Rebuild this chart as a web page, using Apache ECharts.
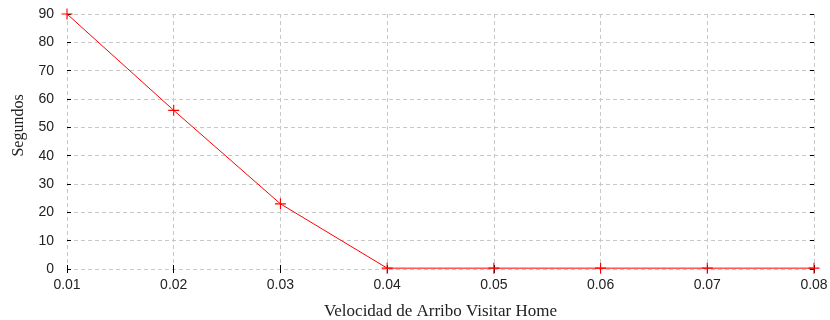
<!DOCTYPE html>
<html>
<head>
<meta charset="utf-8">
<script src="https://cdn.jsdelivr.net/npm/echarts@6/dist/echarts.min.js"></script>
<style>html,body{margin:0;padding:0;background:#fff;}#c{width:830px;height:320px;}</style>
</head>
<body>
<div id="c"></div>
<script>
const xValues = [0.01, 0.02, 0.03, 0.04, 0.05, 0.06, 0.07, 0.08];
const segundos = [90, 56, 23, 0.3, 0.3, 0.3, 0.3, 0.3];
const xName = 'Velocidad de Arribo Visitar Home';
const yName = 'Segundos';

const plus = 'path://M4.5,0h1v4.5h4.5v1h-4.5v4.5h-1v-4.5h-4.5v-1h4.5z';
const tickStyle = {show: true, inside: true, length: 4, lineStyle: {color: '#000', width: 1}};
const labelFont = {fontFamily: 'Liberation Sans, Arial, sans-serif', fontSize: 14, color: '#222'};

const chart = echarts.init(document.getElementById('c'));
chart.setOption({
  animation: false,
  grid: {left: 67, right: 16, top: 14, bottom: 51, containLabel: false, outerBoundsMode: 'none'},
  xAxis: [{
    type: 'value', min: 0.01, max: 0.08, interval: 0.01, position: 'bottom',
    name: xName, nameLocation: 'middle', nameGap: 34,
    nameTextStyle: {fontFamily: 'Liberation Serif, Times New Roman, serif', fontSize: 17, color: '#222'},
    axisLine: {show: false}, axisTick: tickStyle,
    axisLabel: Object.assign({margin: 9, formatter: v => v.toFixed(2)}, labelFont),
    splitLine: {show: true, lineStyle: {type: [4, 3], color: '#c8c8c8', width: 1}}
  }, {
    type: 'value', min: 0.01, max: 0.08, interval: 0.01, position: 'top',
    axisLine: {show: false}, axisTick: tickStyle, axisLabel: {show: false}, splitLine: {show: false}
  }],
  yAxis: [{
    type: 'value', min: 0, max: 90, interval: 10, position: 'left',
    name: yName, nameLocation: 'middle', nameGap: 40,
    nameTextStyle: {fontFamily: 'Liberation Serif, Times New Roman, serif', fontSize: 16, color: '#222', padding: [0, 0, 0, 32]},
    axisLine: {show: false}, axisTick: tickStyle,
    axisLabel: Object.assign({margin: 13}, labelFont),
    splitLine: {show: true, lineStyle: {type: [4, 3], color: '#c8c8c8', width: 1}}
  }, {
    type: 'value', min: 0, max: 90, interval: 10, position: 'right',
    axisLine: {show: false}, axisTick: tickStyle, axisLabel: {show: false}, splitLine: {show: false}
  }],
  series: [{
    type: 'line',
    data: xValues.map((x, i) => [x, segundos[i]]),
    symbol: plus, symbolSize: 11, showSymbol: true,
    lineStyle: {color: '#ff0000', width: 1},
    itemStyle: {color: '#ff0000'},
    z: 5
  }]
});
</script>
</body>
</html>
